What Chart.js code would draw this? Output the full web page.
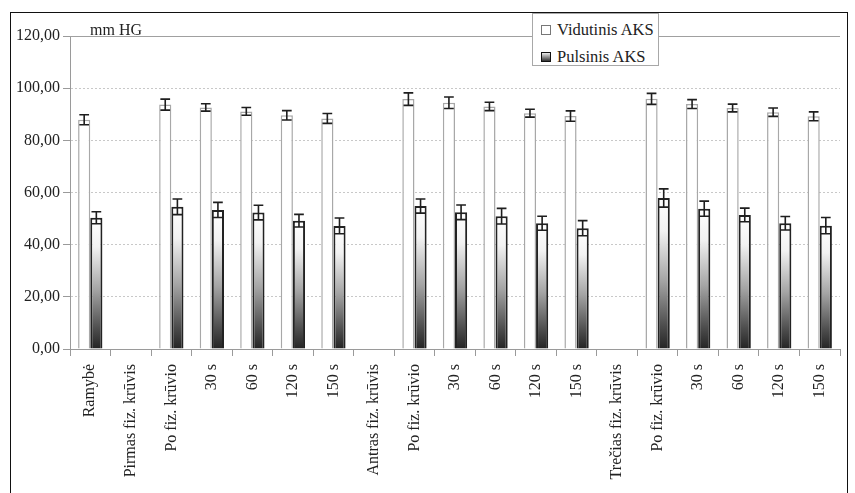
<!DOCTYPE html>
<html>
<head>
<meta charset="utf-8">
<script src="https://cdn.jsdelivr.net/npm/chart.js@4.4.1/dist/chart.umd.min.js"></script>
<style>
  html, body { margin: 0; padding: 0; background: #fff; overflow: hidden; }
  #wrap { position: relative; width: 855px; height: 493px; font-family: 'Liberation Serif'; }
  #frame { position: absolute; left: 10px; top: 12px; width: 836px; height: 520px; border: 1.5px solid #111; pointer-events: none; }
  #legend { position: absolute; left: 532px; top: 13px; width: 125px; height: 51px; border: 1px solid #a8a8a8; background: #fff; font-family: 'Liberation Serif'; font-size: 16.5px; color: #222; }
  #legend .item { position: absolute; left: 8px; white-space: nowrap; line-height: 16px; }
  #legend .sw { display: inline-block; width: 8px; height: 8px; margin-right: 6px; vertical-align: 0px; }
  #unit { position: absolute; left: 90px; top: 21px; font-family: 'Liberation Serif'; font-size: 16px; color: #222; }
</style>
</head>
<body>
<div id="wrap">
  <canvas id="aksChart" width="855" height="493"></canvas>
  <div id="unit">mm HG</div>
  <div id="legend">
    <div class="item" style="top:8px"><span class="sw" style="background:#fff;border:1px solid #777"></span>Vidutinis AKS</div>
    <div class="item" style="top:35px"><span class="sw" style="background:linear-gradient(#eee,#333);border:1px solid #111"></span>Pulsinis AKS</div>
  </div>
  <div id="frame"></div>
</div>
<script>
// categories
const labels = ['Ramybė', 'Pirmas fiz. krūvis', 'Po fiz. krūvio', '30 s', '60 s', '120 s', '150 s',
  'Antras fiz. krūvis', 'Po fiz. krūvio', '30 s', '60 s', '120 s', '150 s',
  'Trečias fiz. krūvis', 'Po fiz. krūvio', '30 s', '60 s', '120 s', '150 s'];

// Vidutinis AKS (mean) and its error
const vidutinis = [87.9, null, 93.7, 92.6, 91.1, 89.6, 88.4, null, 95.8, 94.4, 93.0, 90.4, 89.3, null, 95.9, 93.9, 92.4, 90.8, 89.2];
const vidutinisErr = [1.9, null, 2.1, 1.4, 1.5, 1.8, 1.9, null, 2.4, 2.2, 1.6, 1.5, 2.0, null, 2.1, 1.7, 1.5, 1.6, 1.7];

// Pulsinis AKS (pulse) and its error
const pulsinis = [50.3, null, 54.5, 53.3, 52.3, 49.2, 47.2, null, 54.8, 52.4, 50.9, 48.2, 46.3, null, 57.9, 53.8, 51.4, 48.2, 47.3];
const pulsinisErr = [2.3, null, 3.0, 2.9, 2.8, 2.4, 3.0, null, 2.7, 2.8, 3.0, 2.7, 2.9, null, 3.5, 2.9, 2.6, 2.6, 3.1];

// y axis ticks
const yTicks = [0, 20, 40, 60, 80, 100, 120];

const errors = [vidutinisErr, pulsinisErr];
Chart.defaults.font.family = 'Liberation Serif';
const font = { family: 'Liberation Serif', size: 16 };

// gradient from white at top of bar to dark at the bottom
const pulseFill = (context) => {
    const chart = context.chart;
    const yScale = chart.scales.y;
    if (!chart.chartArea || !yScale || context.raw == null) return '#888';
    const top = yScale.getPixelForValue(context.raw);
    const bottom = yScale.getPixelForValue(0);
    const g = chart.ctx.createLinearGradient(0, top, 0, bottom);
    g.addColorStop(0, '#ffffff');
    g.addColorStop(0.22, '#f2f2f2');
    g.addColorStop(0.55, '#a4a4a4');
    g.addColorStop(0.85, '#4c4c4c');
    g.addColorStop(1, '#242424');
    return g;
};

// error bars + solid top line of the plot
const errorBars = {
    id: 'errorBars',
    afterDatasetsDraw(chart) {
        const { ctx, scales: { y } } = chart;
        ctx.save();
        ctx.strokeStyle = '#1e1e1e';
        ctx.lineWidth = 1.6;
        chart.data.datasets.forEach((ds, di) => {
            const meta = chart.getDatasetMeta(di);
            meta.data.forEach((bar, i) => {
                const v = ds.data[i];
                const e = errors[di][i];
                if (v == null || e == null) return;
                const yHi = y.getPixelForValue(v + e);
                const yLo = y.getPixelForValue(v - e);
                const half = bar.width * 0.4;
                ctx.beginPath();
                ctx.moveTo(bar.x, yHi); ctx.lineTo(bar.x, yLo);
                ctx.moveTo(bar.x - half, yHi); ctx.lineTo(bar.x + half, yHi);
                ctx.moveTo(bar.x - half, yLo); ctx.lineTo(bar.x + half, yLo);
                ctx.stroke();
            });
        });
        const { left, right, top } = chart.chartArea;
        ctx.strokeStyle = '#a0a0a0';
        ctx.lineWidth = 1;
        ctx.beginPath();
        ctx.moveTo(left, top + 0.5); ctx.lineTo(right, top + 0.5);
        ctx.stroke();
        ctx.restore();
    }
};

const aksChart = new Chart(document.getElementById('aksChart').getContext('2d'), {
    type: 'bar',
    data: {
        labels: labels,
        datasets: [{
            label: 'Vidutinis AKS',
            data: vidutinis,
            backgroundColor: '#ffffff',
            borderColor: '#a8a8a8',
            borderWidth: 1.5,
            categoryPercentage: 0.6,
            barPercentage: 1.0
        }, {
            label: 'Pulsinis AKS',
            data: pulsinis,
            backgroundColor: pulseFill,
            borderColor: '#222222',
            borderWidth: 2,
            categoryPercentage: 0.6,
            barPercentage: 1.0
        }]
    },
    options: {
        responsive: false,
        animation: false,
        layout: { padding: { left: 0, top: 36, right: 15, bottom: 0 } },
        plugins: {
            legend: { display: false },
            tooltip: { enabled: false }
        },
        scales: {
            x: {
                grid: { drawOnChartArea: false, offset: true, tickLength: 7, color: '#9a9a9a' },
                border: { color: '#9a9a9a' },
                ticks: {
                    font: font, color: '#222', autoSkip: false,
                    maxRotation: 90, minRotation: 90, padding: 8
                },
                afterFit: (scale) => { scale.height = 144; }
            },
            y: {
                min: 0,
                max: 120,
                afterBuildTicks: (scale) => { scale.ticks = yTicks.map(v => ({ value: v })); },
                grid: { color: '#c8c8c8', tickLength: 7, tickColor: '#9a9a9a' },
                border: { color: '#9a9a9a', dash: [2, 2] },
                ticks: {
                    font: font, color: '#222', padding: 3,
                    callback: (value) => value.toFixed(2).replace('.', ',')
                },
                afterFit: (scale) => { scale.width = 70; }
            }
        }
    },
    plugins: [errorBars]
});

// redraw once fonts are ready
if (document.fonts) document.fonts.ready.then(() => aksChart.update());
</script>
</body>
</html>
